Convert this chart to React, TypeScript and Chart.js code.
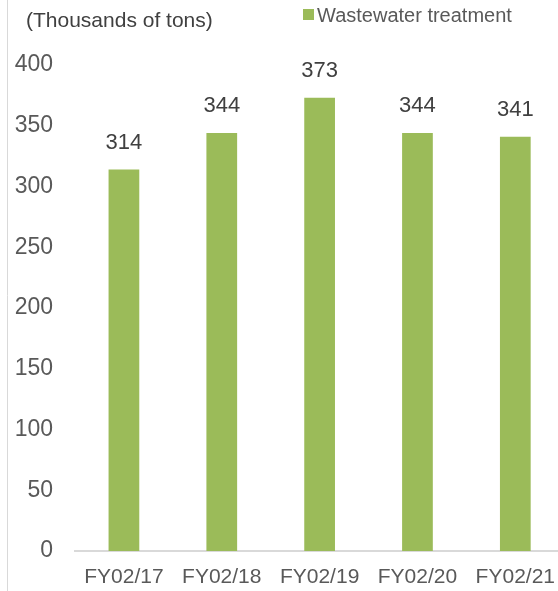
import React, { useEffect, useRef } from "react";
import { Chart, registerables } from "chart.js";

Chart.register(...registerables);

const categories = ["FY02/17", "FY02/18", "FY02/19", "FY02/20", "FY02/21"];
const wastewater = [314, 344, 373, 344, 341];
const seriesLabel = "Wastewater treatment";
const unitLabel = "(Thousands of tons)";
const yMin = 0;
const yMax = 400;
const yStep = 50;

const FONT = "Arial, 'Liberation Sans', Helvetica, sans-serif";
const BAR = "#9BBB59";

const overlay = {
  id: "overlay",
  afterDraw(chart: any) {
    const ctx = chart.ctx;
    ctx.save();
    // left frame line
    ctx.strokeStyle = "#d9d9d9";
    ctx.lineWidth = 1;
    ctx.beginPath();
    ctx.moveTo(7.5, 0);
    ctx.lineTo(7.5, chart.height);
    ctx.stroke();
    // unit title
    ctx.font = `21px ${FONT}`;
    ctx.fillStyle = "#404040";
    ctx.textAlign = "left";
    ctx.textBaseline = "alphabetic";
    ctx.fillText(unitLabel, 26, 27);
    // legend
    ctx.font = `20px ${FONT}`;
    ctx.fillStyle = BAR;
    ctx.fillRect(303, 9, 11, 11);
    ctx.fillStyle = "#595959";
    ctx.fillText(seriesLabel, 317, 22);
    // data labels
    const meta = chart.getDatasetMeta(0);
    ctx.font = `22px ${FONT}`;
    ctx.fillStyle = "#404040";
    ctx.textAlign = "center";
    ctx.textBaseline = "middle";
    meta.data.forEach((el: any, i: number) => {
      ctx.fillText(String(chart.data.datasets[0].data[i]), el.x, el.y - 27);
    });
    ctx.restore();
  },
};

export default function App() {
  const ref = useRef<HTMLCanvasElement>(null);
  useEffect(() => {
    if (!ref.current) return;
    const chart = new Chart(ref.current, {
      type: "bar",
      data: {
        labels: categories,
        datasets: [
          {
            label: seriesLabel,
            data: wastewater,
            backgroundColor: BAR,
            categoryPercentage: 1,
            barPercentage: 0.314,
          },
        ],
      },
      options: {
        animation: false,
        responsive: false,
        layout: { padding: { top: 65, left: 0, right: 0, bottom: 0 } },
        plugins: { legend: { display: false }, tooltip: { enabled: false }, title: { display: false } },
        scales: {
          x: {
            grid: { display: false, drawTicks: false },
            border: { display: true, color: "#d9d9d9", width: 2 },
            ticks: { font: { size: 21, family: FONT }, color: "#595959", padding: 14, maxRotation: 0, autoSkip: false },
            afterFit: (s: any) => { s.height = 40; },
          },
          y: {
            min: yMin,
            max: yMax,
            grid: { display: false, drawTicks: false },
            border: { display: false },
            ticks: { stepSize: yStep, font: { size: 23, family: FONT }, color: "#595959", padding: 22 },
            afterFit: (s: any) => { s.width = 75; },
          },
        },
      },
      plugins: [overlay],
    });
    return () => chart.destroy();
  }, []);
  return (
    <div style={{ position: "fixed", left: 0, top: 0, width: 558, height: 591, overflow: "hidden", background: "#fff" }}>
      <canvas ref={ref} width={569} height={591} style={{ display: "block" }} />
    </div>
  );
}
